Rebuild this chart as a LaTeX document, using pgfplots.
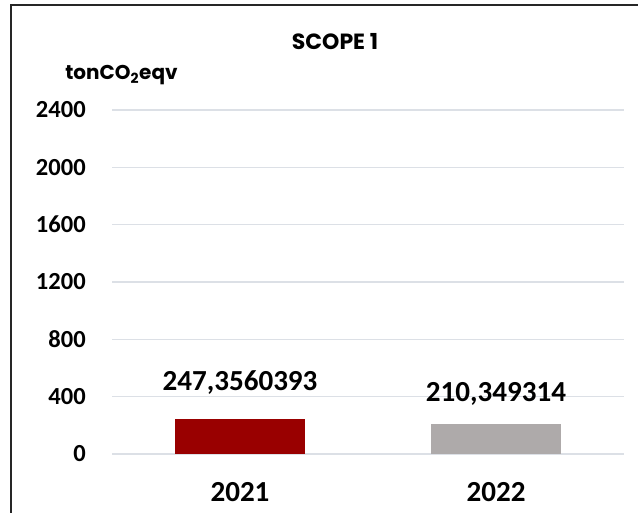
\documentclass[border=0pt]{standalone}
\usepackage{fontspec}
\setmainfont{Carlito}
\newfontfamily\pop{Poppins}
\usepackage{pgfplots}
\pgfplotsset{compat=1.18}
\definecolor{barred}{HTML}{990000}
\definecolor{bargray}{HTML}{AEAAAA}
\definecolor{gridc}{HTML}{DCE0E6}
\begin{document}
\begin{tikzpicture}
\useasboundingbox (0,0) rectangle (478.5pt,384.75pt);
\begin{axis}[
 at={(84pt,44.25pt)}, anchor=south west,
 scale only axis, width=384pt, height=258pt,
 xmin=-0.5, xmax=1.5, ymin=0, ymax=2400,
 ybar, bar width=97.5pt, bar shift=0pt,
 xtick={0,1}, xticklabels={2021,2022},
 ytick={0,400,...,2400},
 major tick length=0pt,
 axis line style={draw=none},
 ymajorgrids, grid style={gridc, line width=1pt},
 /pgf/number format/assume math mode=true,
 /pgf/number format/set thousands separator={},
 yticklabel style={font=\fontsize{18.4}{20}\selectfont\bfseries, anchor=east, inner sep=0pt, xshift=-19.5pt},
 xticklabel style={font=\fontsize{21.8}{24}\selectfont\bfseries, anchor=base, inner sep=0pt, yshift=-36pt},
 clip=false,
]
\addplot[fill=barred, draw=none, point meta=explicit symbolic, nodes near coords,
  every node near coord/.append style={anchor=base, inner sep=0pt, yshift=21.4pt, font=\fontsize{21.8}{24}\selectfont\bfseries, text=black}]
  table[meta=lab] {
x y lab
0 247.3560393 247,3560393
};
\addplot[fill=bargray, draw=none, point meta=explicit symbolic, nodes near coords,
  every node near coord/.append style={anchor=base, inner sep=0pt, yshift=17.1pt, font=\fontsize{21.8}{24}\selectfont\bfseries, text=black}]
  table[meta=lab] {
x y lab
1 210.349314 210,349314
};
\end{axis}
\node[font={\pop\fontsize{16.5}{18}\selectfont\bfseries}, anchor=base, inner sep=0pt] at (251.25pt,347.25pt) {SCOPE 1};
\node[font={\pop\fontsize{15}{17}\selectfont\bfseries}, anchor=base west, inner sep=0pt] at (48.75pt,324.75pt) {tonCO\textsubscript{2}eqv};
\draw[line width=1.3pt, black!85] (8.25pt,0) -- (8.25pt,381pt) -- (478.5pt,381pt);
\end{tikzpicture}
\end{document}
